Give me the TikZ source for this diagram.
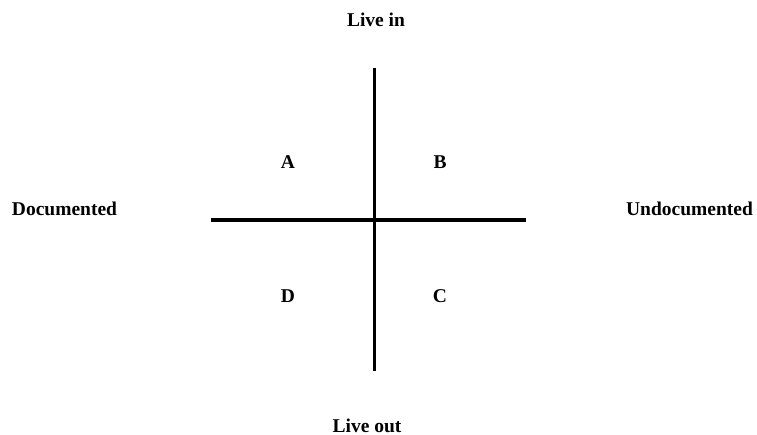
\documentclass[tikz,border=0pt]{standalone}
\usepackage{fontspec}
\setmainfont{Liberation Serif}
\begin{document}
\begin{tikzpicture}[x=1pt,y=-1pt,
  lbl/.style={font=\fontsize{19.5}{22}\selectfont\bfseries, anchor=base, inner sep=0pt},
  axis/.style={line width=3.3pt, black}]
\useasboundingbox (0,0) rectangle (757,435);
\fill[white] (0,0) rectangle (757,435);
\coordinate (top) at (374.5,68);
\coordinate (bot) at (374.5,371);
\coordinate (lft) at (210.5,220);
\coordinate (rgt) at (525.5,220);
\draw[axis] (top) -- (bot);
\draw[axis] (lft) -- (rgt);
\node[lbl] (livein) at (376,27) {Live in};
\node[lbl] (liveout) at (367,432) {Live out};
\node[lbl] (doc) at (64.5,216) {Documented};
\node[lbl] (undoc) at (689.5,216) {Undocumented};
\node[lbl] (A) at (288,169) {A};
\node[lbl] (B) at (440,169) {B};
\node[lbl] (D) at (288,303) {D};
\node[lbl] (C) at (440,303) {C};
\end{tikzpicture}
\end{document}
